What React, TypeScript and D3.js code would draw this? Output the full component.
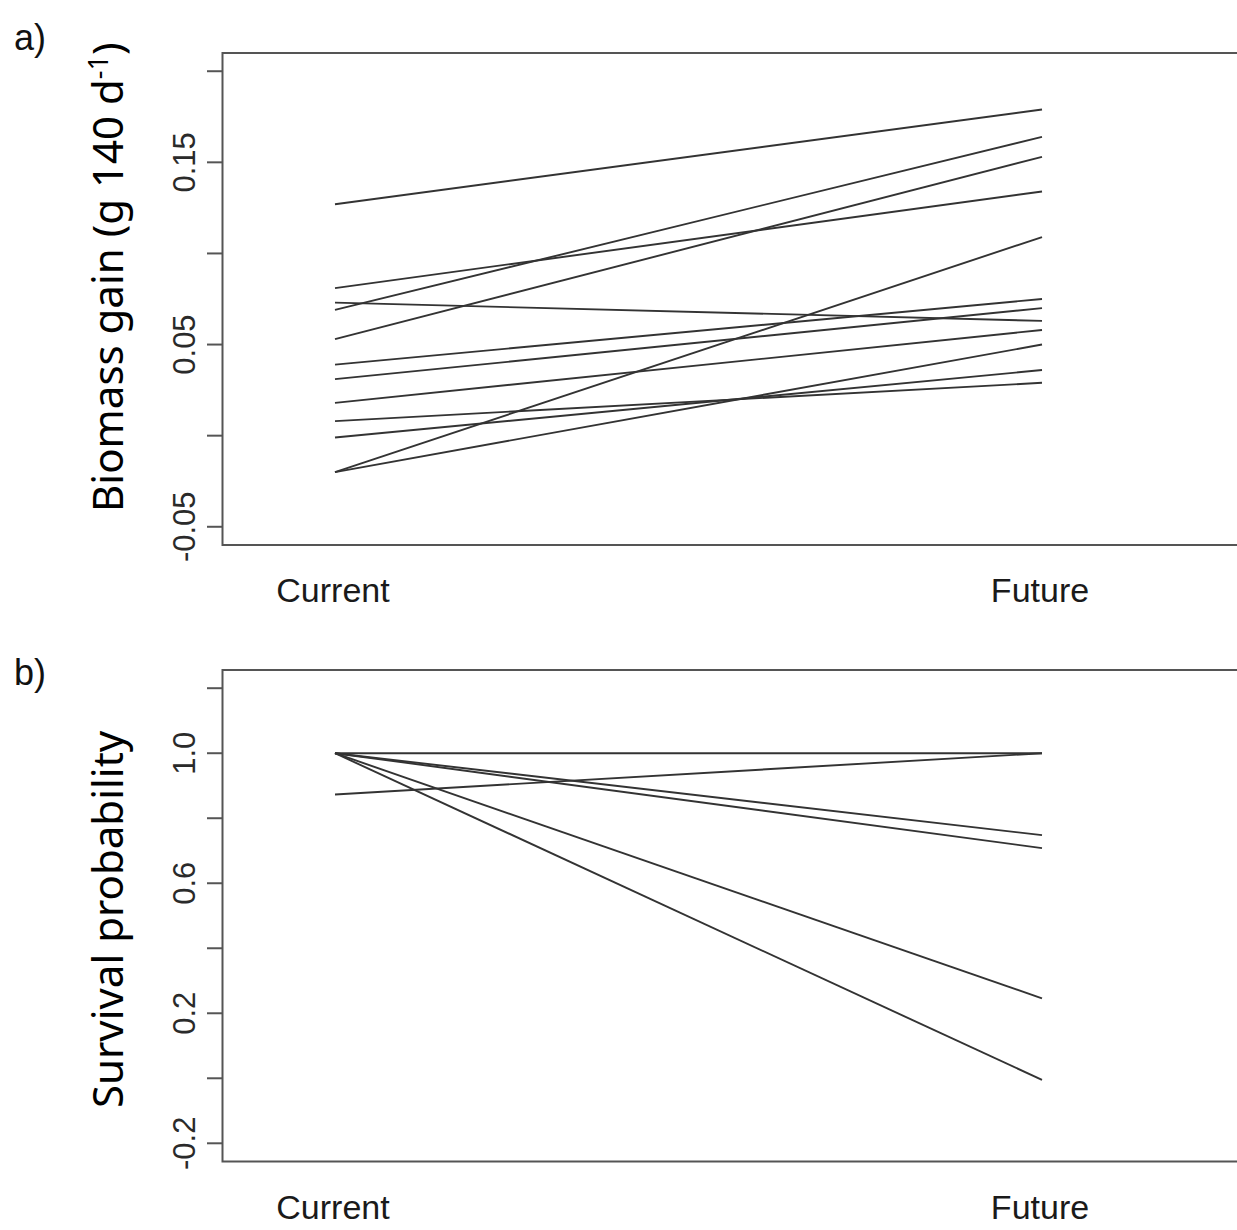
import React from "react";
import * as d3 from "d3";

// Group positions on the x axis
const groups = ["Current", "Future"];

// Panel a: biomass gain per line, current vs future climate
const biomassCurrent = [0.127, 0.081, 0.073, 0.069, 0.053, 0.039, 0.031, 0.018, 0.008, -0.001, -0.02, -0.02];
const biomassFuture = [0.179, 0.134, 0.063, 0.164, 0.153, 0.075, 0.07, 0.058, 0.029, 0.036, 0.05, 0.109];
const biomassTicks = [-0.05, 0, 0.05, 0.1, 0.15, 0.2];
const biomassTickLabels = ["-0.05", "", "0.05", "", "0.15", ""];

// Panel b: survival probability per line
const survivalCurrent = [1, 0.873, 1, 1, 1, 1];
const survivalFuture = [1, 1, 0.748, 0.708, 0.246, -0.005];
const survivalTicks = [-0.2, 0, 0.2, 0.4, 0.6, 0.8, 1.0, 1.2];
const survivalTickLabels = ["-0.2", "", "0.2", "", "0.6", "", "1.0", ""];

const W = 1237;
const H = 1230;
const boxLeft = 222.5;
const boxRight = 1245;
const sansAxis = "Liberation Sans, Arial, Helvetica, sans-serif";
const sansLabel = "'Noto Sans', 'Open Sans', sans-serif";

type PanelProps = {
  top: number;
  bottom: number;
  ylim: [number, number];
  current: number[];
  future: number[];
  ticks: number[];
  tickLabels: string[];
  letter: string;
  letterY: number;
  ylab: React.ReactNode;
  ylabStartY: number;
};

function Panel(p: PanelProps) {
  const span = p.ylim[1] - p.ylim[0];
  const y = d3
    .scaleLinear()
    .domain([p.ylim[0] - 0.04 * span, p.ylim[1] + 0.04 * span])
    .range([p.bottom, p.top]);
  const x = d3.scalePoint<string>().domain(groups).range([335, 1042]).padding(0);
  const line = d3
    .line<[string, number]>()
    .x((d) => x(d[0]) as number)
    .y((d) => y(d[1]));

  const series = p.current.map((c, i) => [
    [groups[0], c],
    [groups[1], p.future[i]],
  ] as [string, number][]);

  const labelBase = p.bottom + 57;

  return (
    <g>
      <text x={14} y={p.letterY} fontFamily={sansAxis} fontSize={36} fill="#111">
        {p.letter}
      </text>
      {/* data lines */}
      {series.map((s, i) => (
        <path key={i} d={line(s) || ""} fill="none" stroke="#333" strokeWidth={1.9} />
      ))}
      {/* plot frame */}
      <path
        d={`M${boxRight},${p.top}H${boxLeft}V${p.bottom}H${boxRight}`}
        fill="none"
        stroke="#555"
        strokeWidth={2}
      />
      {/* y axis ticks */}
      {p.ticks.map((t, i) => (
        <g key={i}>
          <line x1={207} x2={boxLeft} y1={y(t)} y2={y(t)} stroke="#555" strokeWidth={2} />
          {p.tickLabels[i] && (
            <text
              x={195}
              y={y(t)}
              transform={`rotate(-90, 195, ${y(t)})`}
              textAnchor="middle"
              fontFamily={sansAxis}
              fontSize={31}
              fill="#2a2a2a"
            >
              {p.tickLabels[i]}
            </text>
          )}
        </g>
      ))}
      {/* group labels */}
      {groups.map((g) => (
        <text
          key={g}
          x={(x(g) as number) - 2}
          y={labelBase}
          textAnchor="middle"
          fontFamily={sansAxis}
          fontSize={34}
          fill="#1a1a1a"
        >
          {g}
        </text>
      ))}
      {/* y axis title */}
      <text
        x={123}
        y={p.ylabStartY}
        transform={`rotate(-90, 123, ${p.ylabStartY})`}
        textAnchor="start"
        fontFamily={sansLabel}
        fontSize={42}
        fill="#000"
      >
        {p.ylab}
      </text>
    </g>
  );
}

export default function App() {
  return (
    <svg
      width={W}
      height={H}
      viewBox={`0 0 ${W} ${H}`}
      style={{ position: "absolute", left: 0, top: 0, background: "#fff" }}
    >
      <rect width={W} height={H} fill="#fff" />
      <Panel
        top={53}
        bottom={545}
        ylim={[-0.05, 0.2]}
        current={biomassCurrent}
        future={biomassFuture}
        ticks={biomassTicks}
        tickLabels={biomassTickLabels}
        letter="a)"
        letterY={50}
        ylab={
          <>
            Biomass gain (g 140 d
            <tspan fontSize={27} dy={-15}>-1</tspan>
            <tspan dy={15}>)</tspan>
          </>
        }
        ylabStartY={512}
      />
      <Panel
        top={670}
        bottom={1161.5}
        ylim={[-0.2, 1.2]}
        current={survivalCurrent}
        future={survivalFuture}
        ticks={survivalTicks}
        tickLabels={survivalTickLabels}
        letter="b)"
        letterY={685}
        ylab={<>Survival probability</>}
        ylabStartY={1108}
      />
    </svg>
  );
}
